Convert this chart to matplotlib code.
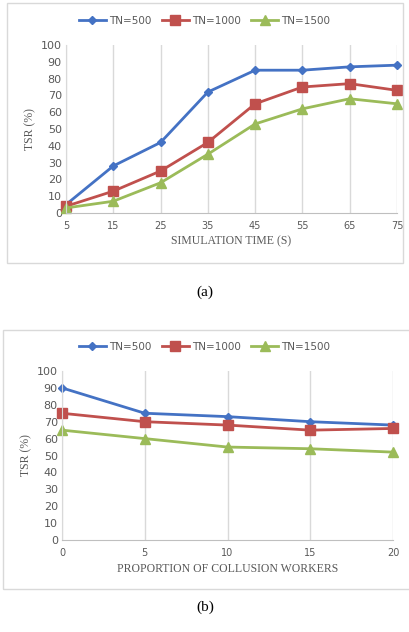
import matplotlib.pyplot as plt
from matplotlib.patches import Rectangle

# data
time_s = [5, 15, 25, 35, 45, 55, 65, 75]
tsr_time_500 = [5, 28, 42, 72, 85, 85, 87, 88]
tsr_time_1000 = [4, 13, 25, 42, 65, 75, 77, 73]
tsr_time_1500 = [3, 7, 18, 35, 53, 62, 68, 65]

collusion = [0, 5, 10, 15, 20]
tsr_col_500 = [90, 75, 73, 70, 68]
tsr_col_1000 = [75, 70, 68, 65, 66]
tsr_col_1500 = [65, 60, 55, 54, 52]

labels = ['TN=500', 'TN=1000', 'TN=1500']
COLORS = ['#4472C4', '#C0504D', '#9BBB59']
MARKERS = ['D', 's', '^']
MSIZES = [4.5, 6.5, 6.5]

W, H = 409, 632
SERIF = ['Liberation Serif', 'DejaVu Serif']


def draw_panel(fig, rect, box, x, series, xlabel, legend_y):
    """Excel 风格折线图: 外框 + 竖向网格 + 顶部图例."""
    fig.patches.append(Rectangle((box[0] / W, 1 - box[3] / H), (box[2] - box[0]) / W,
                                 (box[3] - box[1]) / H, transform=fig.transFigure,
                                 fill=False, edgecolor='#D9D9D9', lw=1.0))
    ax = fig.add_axes([rect[0] / W, 1 - rect[3] / H, (rect[2] - rect[0]) / W,
                       (rect[3] - rect[1]) / H])
    lines = []
    for ys, lab, c, m, ms in zip(series, labels, COLORS, MARKERS, MSIZES):
        lines += ax.plot(x, ys, color=c, marker=m, markersize=ms, lw=2, label=lab,
                         clip_on=False)
    ax.set_xlim(x[0], x[-1])
    ax.set_ylim(0, 100)
    ax.set_yticks(range(0, 101, 10))
    ax.set_xticks(x)
    ax.grid(axis='x', color='#D9D9D9', lw=1)
    ax.set_axisbelow(True)
    for s in ['top', 'right']:
        ax.spines[s].set_visible(False)
    ax.spines['left'].set_color('#D9D9D9')
    ax.spines['bottom'].set_color('#BFBFBF')
    ax.tick_params(axis='y', length=0, labelsize=8, labelcolor='#595959', pad=3)
    ax.tick_params(axis='x', length=0, labelsize=7, labelcolor='#595959', pad=6)
    ax.set_xlabel(xlabel, family=SERIF, fontsize=8.5, color='#595959', labelpad=3)
    ax.set_ylabel('TSR (%)', family=SERIF, fontsize=8.5, color='#595959', labelpad=3)
    ax.legend(handles=lines, loc='center', bbox_to_anchor=(0.5, 1 - legend_y / H),
              bbox_transform=fig.transFigure, ncol=3, frameon=False, fontsize=7.5,
              handlelength=2.6, columnspacing=1.0, handletextpad=0.3,
              labelcolor='#595959')
    return ax


fig = plt.figure(figsize=(W / 100, H / 100), dpi=100)

# (a) 仿真时间
draw_panel(fig, (66, 45, 397, 213), (7, 3, 403, 263), time_s,
           [tsr_time_500, tsr_time_1000, tsr_time_1500],
           'SIMULATION TIME (S)', 21)

# (b) 共谋工人比例
draw_panel(fig, (62, 371, 393, 540), (3, 330, 413, 589), collusion,
           [tsr_col_500, tsr_col_1000, tsr_col_1500],
           'PROPORTION OF COLLUSION WORKERS', 347)

fig.text(205 / W, 1 - 292 / H, '(a)', family=SERIF, fontsize=11, ha='center', va='center')
fig.text(205 / W, 1 - 607 / H, '(b)', family=SERIF, fontsize=11, ha='center', va='center')

fig.savefig('out.png', dpi=100)
